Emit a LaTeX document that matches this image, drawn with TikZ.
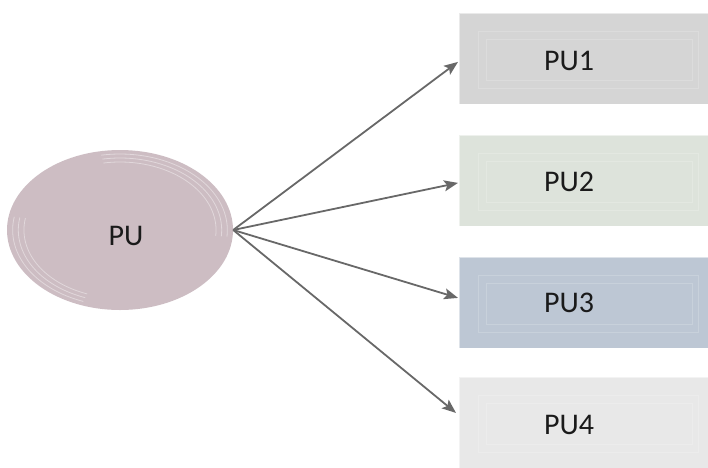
\documentclass[tikz,border=0pt]{standalone}
\usepackage{fontspec}
\setmainfont{Carlito}
\usetikzlibrary{shapes.geometric,arrows.meta,calc}

\definecolor{ellfill}{HTML}{CDBDC3}
\definecolor{boxA}{HTML}{D5D5D5}
\definecolor{boxB}{HTML}{DDE3DB}
\definecolor{boxC}{HTML}{BDC7D4}
\definecolor{boxD}{HTML}{E8E8E8}
\definecolor{arrowgray}{HTML}{686868}
\definecolor{labeltext}{HTML}{1A1A1A}

\tikzset{
  unitbox/.style={rectangle, draw=white, draw opacity=0.5, line width=0.8pt,
    minimum width=249pt, minimum height=91pt, inner sep=0pt, anchor=north west},
  bevel/.style={draw=white, opacity=0.18, line width=0.8pt},
  caption/.style={text=labeltext, inner sep=0pt, font=\fontsize{30}{36}\selectfont},
  link/.style={draw=arrowgray, line width=1.8pt,
    -{Stealth[length=14pt,width=11pt,inset=3pt]}},
  glint/.style={draw=white, opacity=0.4, line width=0.8pt}
}

\begin{document}
\begin{tikzpicture}[x=1pt,y=-1pt]
  \useasboundingbox (0,0) rectangle (708,467);

  % parent unit
  \node[ellipse, fill=ellfill, minimum width=226pt, minimum height=160pt, inner sep=0pt]
    (pu) at (120,230) {};
  % faint highlight rings on the ellipse
  \foreach \s in {0.95,0.9,0.85} {
    \draw[glint] plot[domain=-100:5, samples=40, smooth]
      ({120+113*\s*cos(\x)}, {230+80*\s*sin(\x)});
    \draw[glint] plot[domain=110:190, samples=40, smooth]
      ({120+113*\s*cos(\x)}, {230+80*\s*sin(\x)});
  }
  \node[caption] (pulabel) at (126,236) {PU};

  % child units
  \node[unitbox, fill=boxA] (b1) at (459,13) {};
  \node[unitbox, fill=boxB] (b2) at (459,135) {};
  \node[unitbox, fill=boxC] (b3) at (459,257) {};
  \node[unitbox, fill=boxD] (b4) at (459,377) {};

  % inner bevel lines of each box
  \foreach \b in {b1,b2,b3,b4} {
    \draw[bevel] ($(\b.north west)+(19,18)$) rectangle ($(\b.south east)+(-10,-16)$);
    \draw[bevel] ($(\b.north west)+(27,26)$) rectangle ($(\b.south east)+(-16,-24)$);
  }

  \node[caption] (l1) at (569,61) {PU1};
  \node[caption] (l2) at (569,182) {PU2};
  \node[caption] (l3) at (569,303) {PU3};
  \node[caption] (l4) at (569,425) {PU4};

  % connectors
  \draw[link] (pu.east) -- ($(b1.west)+(-1,3)$);
  \draw[link] (pu.east) -- ($(b2.west)+(-1,2)$);
  \draw[link] (pu.east) -- ($(b3.west)+(-1,-5)$);
  \draw[link] (pu.east) -- ($(b4.west)+(-3,-10)$);
\end{tikzpicture}
\end{document}
